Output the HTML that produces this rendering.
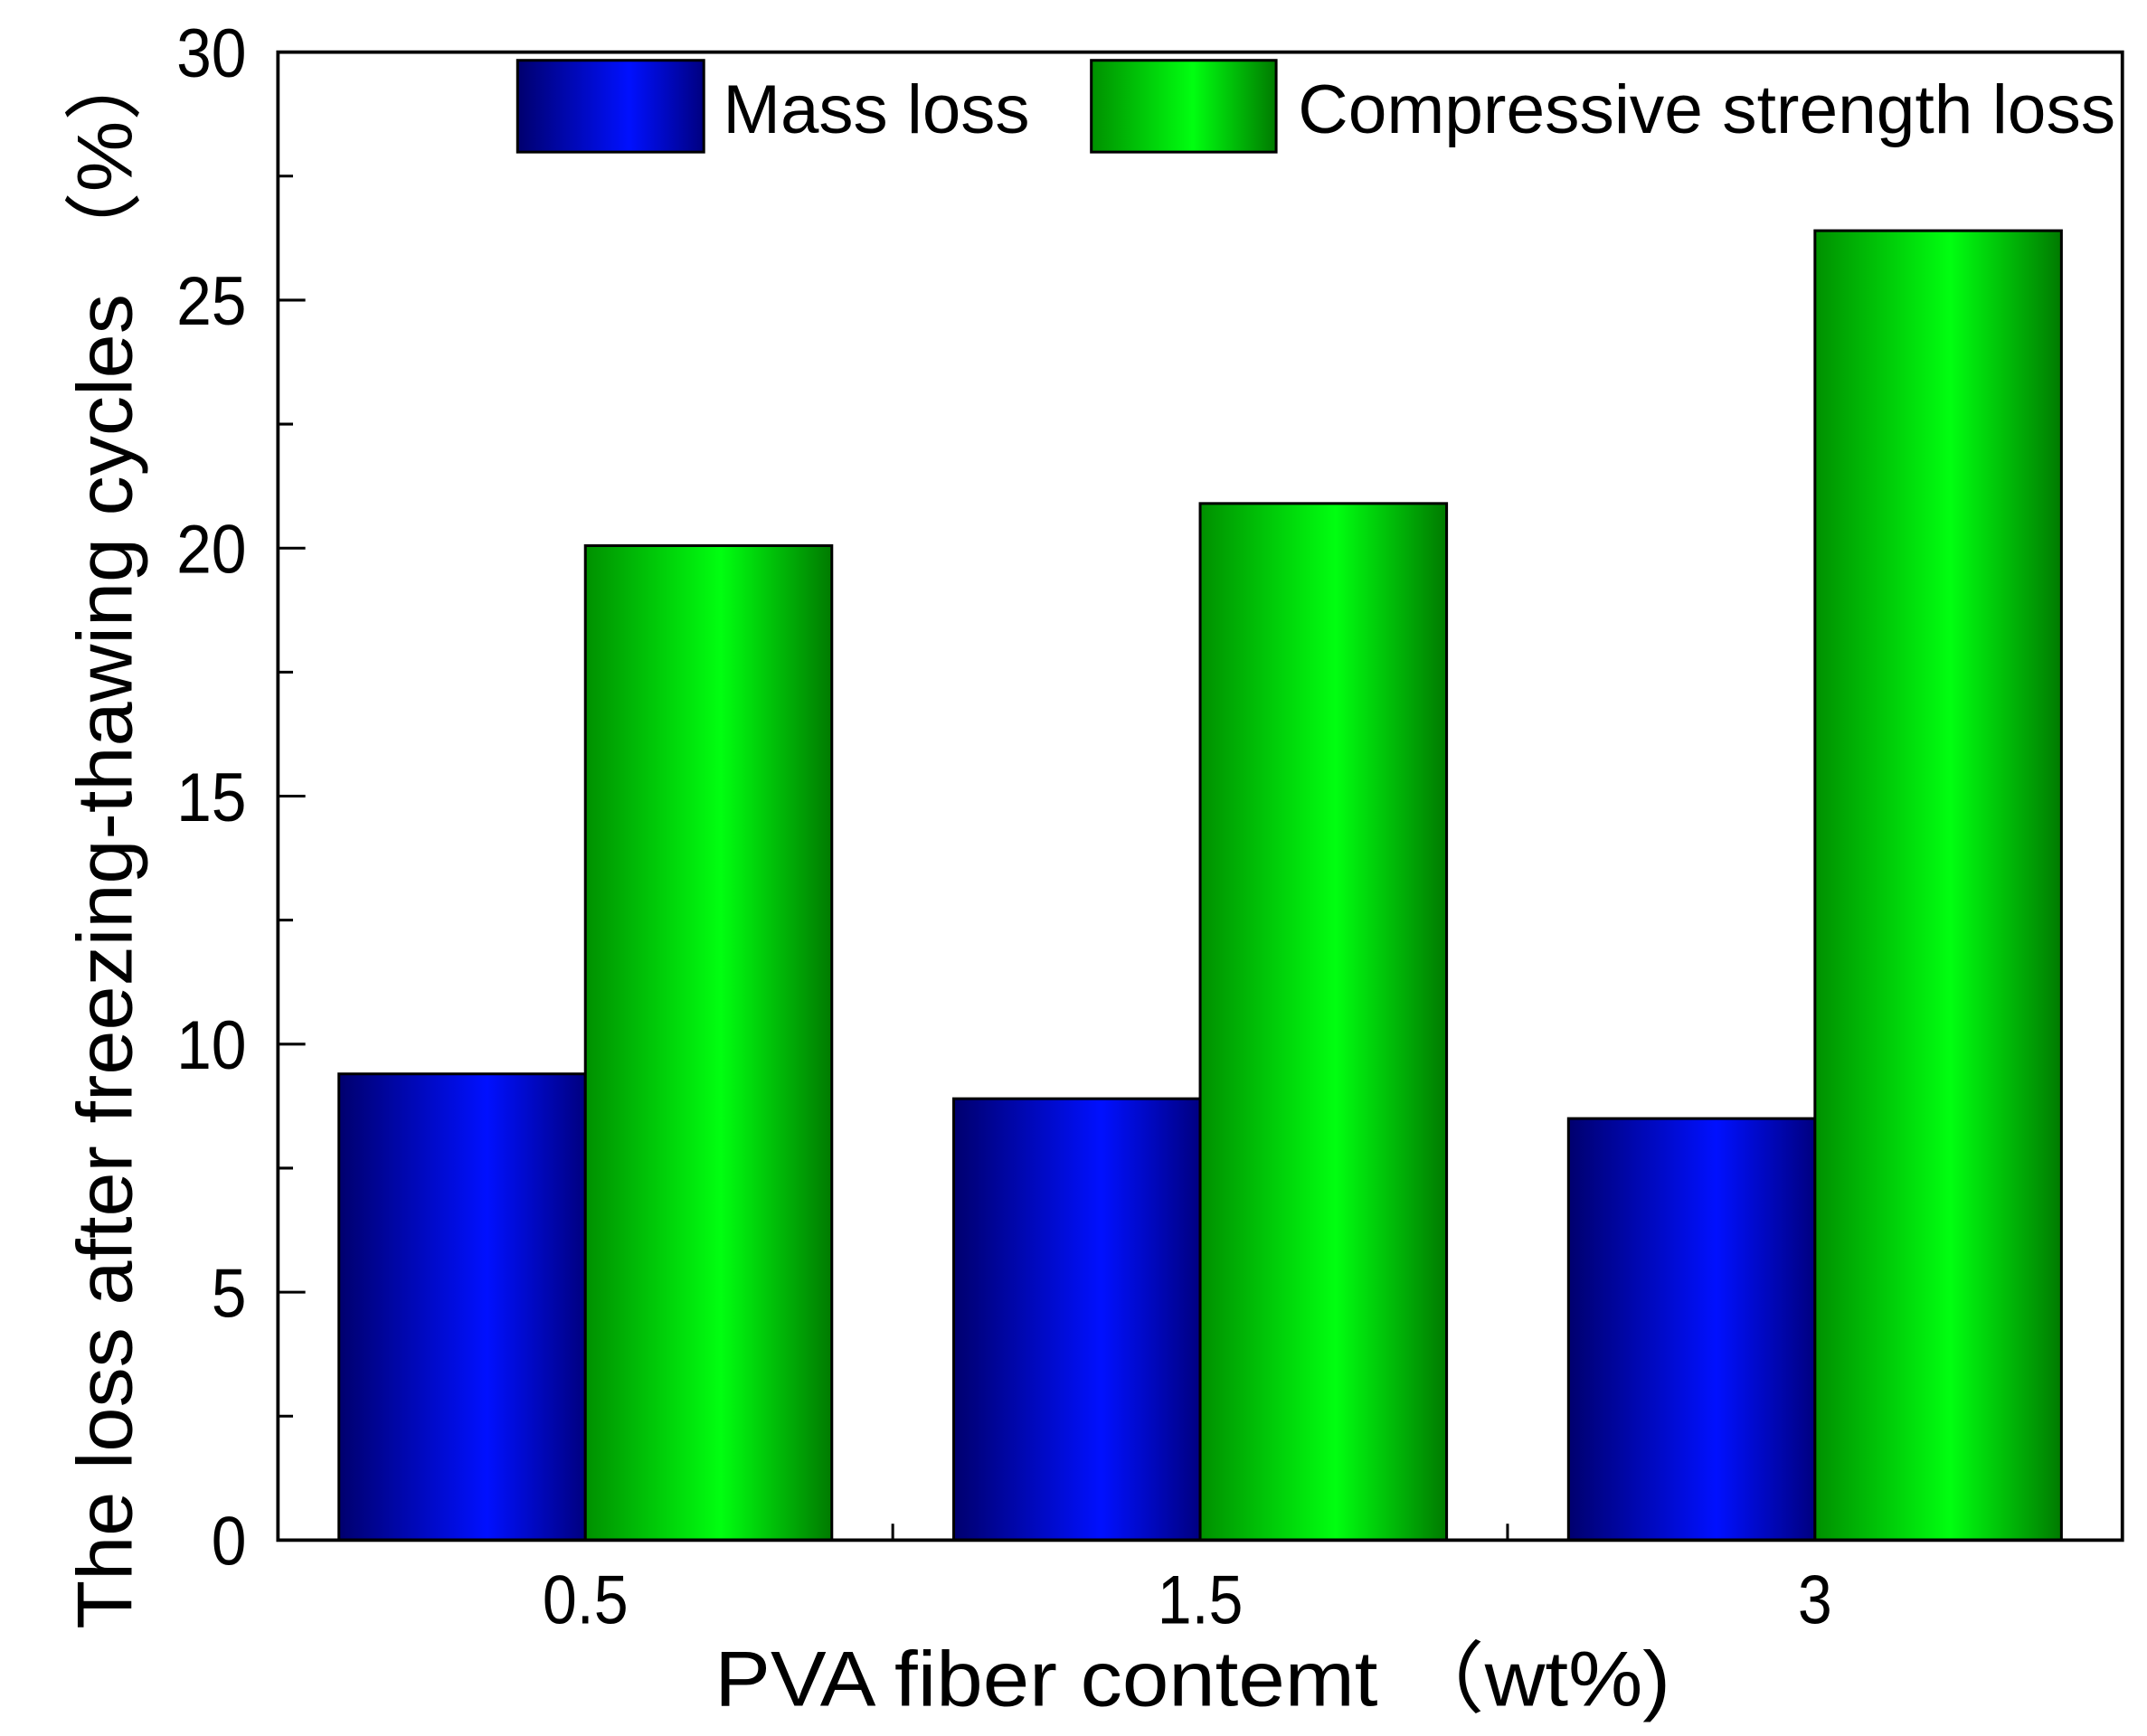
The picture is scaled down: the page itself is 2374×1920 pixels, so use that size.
<!DOCTYPE html>
<html><head><meta charset="utf-8"><style>
html,body{margin:0;padding:0;background:#fff;}
svg{display:block;font-family:"Liberation Sans","Noto Sans CJK SC",sans-serif;}
</style></head><body>
<svg id="chart" width="2374" height="1920" viewBox="0 0 1568 1268" xmlns="http://www.w3.org/2000/svg">
<defs>
<linearGradient id="gBlue" x1="0" x2="1" y1="0" y2="0">
<stop offset="0" stop-color="#00006e"/><stop offset="0.6" stop-color="#0010ff"/><stop offset="1" stop-color="#000080"/>
</linearGradient>
<linearGradient id="gGreen" x1="0" x2="1" y1="0" y2="0">
<stop offset="0" stop-color="#009000"/><stop offset="0.55" stop-color="#00ff10"/><stop offset="1" stop-color="#007a00"/>
</linearGradient>
</defs>
<g id="bars"></g>
<g id="axes"></g>
<g>
<rect x="378" y="44" width="136" height="67" fill="url(#gBlue)" stroke="#000" stroke-width="2"/>
<text x="528" y="97" font-size="50" textLength="224" lengthAdjust="spacingAndGlyphs">Mass loss</text>
<rect x="797" y="44" width="135" height="67" fill="url(#gGreen)" stroke="#000" stroke-width="2"/>
<text x="948" y="97" font-size="50" textLength="597" lengthAdjust="spacingAndGlyphs">Compressive strength loss</text>
</g>
<text x="522" y="1246" font-size="57" textLength="698" lengthAdjust="spacingAndGlyphs">PVA fiber contemt （wt%)</text>
<text transform="translate(96,1190) rotate(-90)" font-size="57" textLength="1160" lengthAdjust="spacingAndGlyphs">The loss after freezing-thawing cycles （%）</text>
</svg>
<script>
const categories = ["0.5", "1.5", "3"];
const massLoss = [9.4, 8.9, 8.5];
const strengthLoss = [20.05, 20.9, 26.4];
const yTicks = [0, 5, 10, 15, 20, 25, 30];

const NS = "http://www.w3.org/2000/svg";
const L = 203, R = 1550, T = 38, B = 1125, YMAX = 30;
function yScale(v){ return B - v / YMAX * (B - T); }
const groupW = (R - L) / categories.length;
function xCenter(i){ return L + groupW * (i + 0.5); }
const barW = 180;
function mk(tag, attrs, parent){
  const e = document.createElementNS(NS, tag);
  for (const k in attrs) e.setAttribute(k, attrs[k]);
  parent.appendChild(e); return e;
}
const bars = document.getElementById("bars");
const axes = document.getElementById("axes");
categories.forEach((c, i) => {
  const cx = xCenter(i);
  const b = mk("rect", {x: cx - barW, y: yScale(massLoss[i]), width: barW, height: B - yScale(massLoss[i]), fill: "url(#gBlue)", stroke: "#000", "stroke-width": 2}, bars);
  
  
  const g = mk("rect", {x: cx, y: yScale(strengthLoss[i]), width: barW, height: B - yScale(strengthLoss[i]), fill: "url(#gGreen)", stroke: "#000", "stroke-width": 2}, bars);
  
  
  const t = mk("text", {x: cx, y: 1186, "font-size": 50, "text-anchor": "middle", transform: "translate(" + cx + ",0) scale(0.9,1) translate(" + (-cx) + ",0)"}, axes);
  t.textContent = c;
  
  
  if (i > 0) {
    const tk = mk("line", {x1: L + groupW * i, x2: L + groupW * i, y1: B, y2: B - 12, stroke: "#000", "stroke-width": 2}, axes);
    
    
  }
});
yTicks.forEach(v => {
  const y = yScale(v);
  const tk = mk("line", {x1: L, x2: L + 20, y1: y, y2: y, stroke: "#000", "stroke-width": 2}, axes);
  
  
  const t = mk("text", {x: 180, y: y + 18, "font-size": 50, "text-anchor": "end", transform: "translate(180,0) scale(0.92,1) translate(-180,0)"}, axes);
  t.textContent = v;
  
  
  if (v < YMAX) {
    const m = mk("line", {x1: L, x2: L + 11, y1: yScale(v + 2.5), y2: yScale(v + 2.5), stroke: "#000", "stroke-width": 2}, axes);
    
    
  }
});
const frame = mk("rect", {x: L, y: T, width: R - L, height: B - T, fill: "none", stroke: "#000", "stroke-width": 2.5}, axes);


</script>
</body></html>
